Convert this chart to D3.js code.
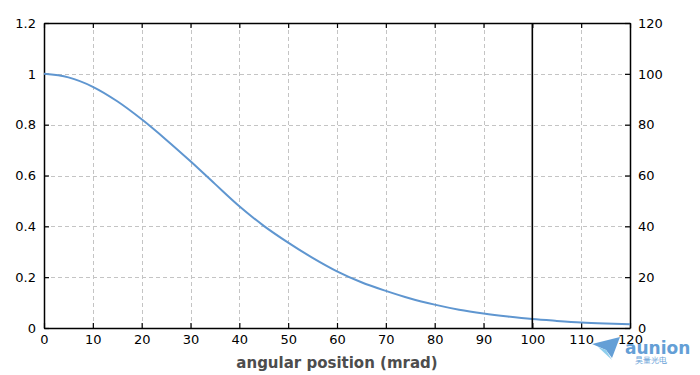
<!DOCTYPE html>
<html>
<head>
<meta charset="utf-8">
<script src="https://cdn.jsdelivr.net/npm/d3@7"></script>
<style>
  body { margin: 0; background: #fff; }
  text { font-family: Tahoma, "DejaVu Sans", sans-serif; }
</style>
</head>
<body>
<div id="chart-area"></div>
<script>
// data
var angle = [0, 5, 10, 15, 20, 25, 30, 35, 40, 45, 50, 55, 60, 65, 70, 75, 80, 85, 90, 95, 100, 105, 110, 115, 120];
var intensity = [1.0, 0.986, 0.949, 0.892, 0.821, 0.741, 0.656, 0.567, 0.479, 0.402, 0.336, 0.276, 0.223, 0.18, 0.146, 0.116, 0.092, 0.072, 0.057, 0.045, 0.035, 0.028, 0.022, 0.018, 0.015];
var xTicks = [0, 10, 20, 30, 40, 50, 60, 70, 80, 90, 100, 110, 120];
var yTicks = [0, 0.2, 0.4, 0.6, 0.8, 1, 1.2];
var y2Ticks = [0, 20, 40, 60, 80, 100, 120];
var markerX = 100;

var margins = { left: 44, right: 70, top: 23, bottom: 47 };
var width = 700 - margins.left - margins.right;
var height = 375 - margins.top - margins.bottom;

var svg = d3.select("#chart-area")
    .append("svg")
    .attr("width", 700)
    .attr("height", 375);

var g = svg.append("g")
    .attr("transform", "translate(" + margins.left + "," + margins.top + ")");

var x = d3.scaleLinear().domain([0, 120]).range([0, width]);
var y = d3.scaleLinear().domain([0, 1.2]).range([height, 0]);
var y2 = d3.scaleLinear().domain([0, 120]).range([height, 0]);

// grid
g.append("g").selectAll("line")
    .data(xTicks.slice(1, -1))
    .enter().append("line")
    .attr("x1", function(d) { return Math.round(x(d)) + 0.5; })
    .attr("x2", function(d) { return Math.round(x(d)) + 0.5; })
    .attr("y1", 0).attr("y2", height)
    .attr("stroke", "#c4c4c4")
    .attr("stroke-dasharray", "4,3");

g.append("g").selectAll("line")
    .data(yTicks.slice(1, -1))
    .enter().append("line")
    .attr("y1", function(d) { return Math.round(y(d)) + 0.5; })
    .attr("y2", function(d) { return Math.round(y(d)) + 0.5; })
    .attr("x1", 0).attr("x2", width)
    .attr("stroke", "#c4c4c4")
    .attr("stroke-dasharray", "4,3");

// axes
var fmt = function(d) { return String(d); };

var xAxis = g.append("g")
    .attr("transform", "translate(0," + height + ")")
    .call(d3.axisBottom(x).tickValues(xTicks).tickFormat(fmt).tickSizeInner(-5).tickSizeOuter(0).tickPadding(9));

var xTop = g.append("g")
    .call(d3.axisTop(x).tickValues(xTicks).tickFormat("").tickSizeInner(-5).tickSizeOuter(0));

var yAxis = g.append("g")
    .call(d3.axisLeft(y).tickValues(yTicks).tickFormat(fmt).tickSizeInner(-5).tickSizeOuter(0).tickPadding(8));

var yRight = g.append("g")
    .attr("transform", "translate(" + width + ",0)")
    .call(d3.axisRight(y2).tickValues(y2Ticks).tickFormat(fmt).tickSizeInner(-5).tickSizeOuter(0).tickPadding(8));

[xAxis, xTop, yAxis, yRight].forEach(function(a) {
    a.select(".domain").attr("stroke", "#000").attr("stroke-width", 1.5);
    a.selectAll(".tick line").attr("stroke", "#000").attr("stroke-width", 1.2);
    a.selectAll("text").attr("font-size", "13px").attr("fill", "#000")
        .attr("font-family", "Tahoma, 'DejaVu Sans', sans-serif");
});
xAxis.selectAll("text").attr("dy", "0.5em");

// curve
var line = d3.line()
    .x(function(d, i) { return x(angle[i]); })
    .y(function(d) { return y(d); })
    .curve(d3.curveMonotoneX);

g.append("path")
    .datum(intensity)
    .attr("fill", "none")
    .attr("stroke", "#5f96d0")
    .attr("stroke-width", 2)
    .attr("d", line);

// vertical marker
g.append("line")
    .attr("x1", x(markerX)).attr("x2", x(markerX))
    .attr("y1", 0).attr("y2", height)
    .attr("stroke", "#000")
    .attr("stroke-width", 1.6);

// axis title
g.append("text")
    .attr("x", width / 2)
    .attr("y", height + 40)
    .attr("text-anchor", "middle")
    .attr("font-size", "15px")
    .attr("font-weight", "bold")
    .attr("fill", "#4d4d4d")
    .text("angular position (mrad)");

// watermark
var wm = svg.append("g").attr("opacity", 0.85);
wm.append("path")
    .attr("d", "M592,344 L620,337 L612,358 L606,350 Z")
    .attr("fill", "#4a8fd0");
wm.append("path")
    .attr("d", "M598,347 L606,350 L612,360 Z")
    .attr("fill", "#7cc6ea");
wm.append("text")
    .attr("x", 625).attr("y", 354)
    .attr("font-size", "17px")
    .attr("font-weight", "bold")
    .attr("fill", "#4a8fd0")
    .attr("font-family", "'DejaVu Sans', sans-serif")
    .text("aunion");
wm.append("text")
    .attr("x", 635).attr("y", 363)
    .attr("font-size", "8px")
    .attr("fill", "#4a8fd0")
    .attr("font-family", "'Noto Sans CJK SC', sans-serif")
    .text("昊量光电");
</script>
</body>
</html>
